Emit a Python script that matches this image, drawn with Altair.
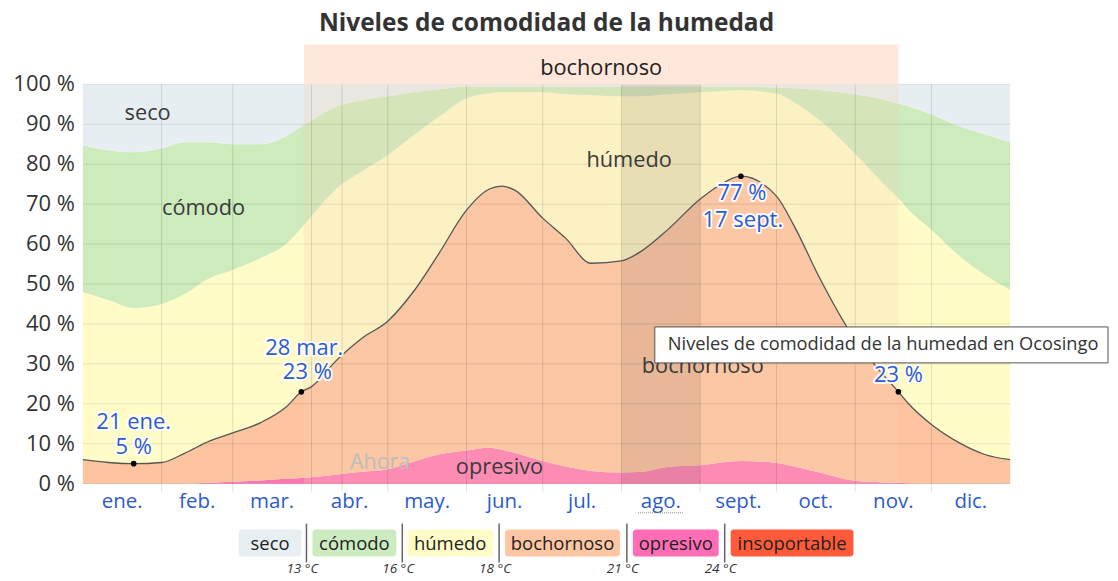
import altair as alt
import pandas as pd

FONT = "Open Sans"
BLUE = "#2C5BCF"
TEXT = "#333333"

# ---------------- data ----------------
days = [0, 10, 20, 31, 40, 50, 59, 70, 80, 86,
        90, 100, 110, 120, 130, 140, 151, 160, 165, 170,
        181, 190, 200, 212, 220, 230, 243, 250, 259, 273,
        280, 290, 304, 315, 321, 325, 334, 345, 355, 365]

# cumulative upper boundary of each band (in % of the time)
opresivo_top = [0, 0, 0, 0, 0, 0.2, 0.5, 0.8, 1.2, 1.4,
                1.6, 2.3, 3.0, 3.6, 5.5, 7.3, 8.3, 9.0, 8.5, 7.7,
                5.7, 4.3, 3.2, 2.8, 3.0, 4.2, 4.6, 5.2, 5.7, 5.2,
                4.3, 2.8, 0.7, 0.3, 0.2, 0.1, 0, 0, 0, 0]
bochornoso_top = [6.0, 5.3, 5.0, 5.3, 7.6, 10.7, 12.7, 15.3, 19.2, 23.0,
                  24.3, 31.0, 36.5, 40.7, 48.0, 57.5, 68.5, 73.8, 74.5, 73.5,
                  66.5, 61.5, 55.2, 55.8, 58.3, 63.5, 71.3, 74.5, 77.0, 72.0,
                  64.5, 51.5, 36.0, 27.3, 23.0, 20.0, 14.8, 10.2, 7.3, 6.0]
humedo_top = [48.0, 46.0, 44.0, 45.0, 47.5, 51.5, 53.5, 56.5, 60.0, 64.0,
              67.0, 74.0, 78.3, 82.3, 87.2, 91.8, 96.5, 97.8, 98.0, 98.0,
              98.0, 97.5, 97.3, 97.0, 97.0, 97.5, 98.0, 98.3, 98.5, 97.7,
              95.5, 91.0, 82.6, 75.2, 71.5, 68.6, 63.6, 57.0, 52.3, 48.5]
comodo_top = [84.7, 83.5, 83.0, 84.0, 85.5, 85.5, 85.0, 85.0, 87.0, 89.5,
              91.0, 94.5, 96.0, 97.0, 98.0, 98.8, 99.5, 99.5, 99.5, 99.5,
              99.5, 99.5, 99.5, 99.5, 99.5, 99.5, 99.5, 99.5, 99.5, 99.2,
              99.0, 98.6, 97.5, 96.2, 95.2, 94.5, 92.5, 89.5, 87.5, 85.5]

band_names = ["opresivo", "bochornoso", "húmedo", "cómodo", "seco"]
band_colors = ["#FF76B5", "#FEC4A0", "#FFFCC8", "#CDEBBD", "#E7EEF2"]

month_labels = ["ene.", "feb.", "mar.", "abr.", "may.", "jun.",
                "jul.", "ago.", "sept.", "oct.", "nov.", "dic."]
month_starts = [0, 31, 59, 90, 120, 151, 181, 212, 243, 273, 304, 334, 365]
y_ticks = list(range(0, 101, 10))

ann_days = [20, 86, 259, 321]
ann_vals = [5, 23, 77, 23]
ann_dates = ["21 ene.", "28 mar.", "17 sept.", "17 nov."]

muggy_start, muggy_end = 87, 321
now_day = 102
highlight_month = 7  # ago.

band_label_text = ["seco", "cómodo", "húmedo", "bochornoso", "opresivo"]
band_label_day = [25.5, 47.5, 215, 244, 164]
band_label_val = [92.75, 69, 81, 29.5, 4.25]

legend_labels = ["seco", "cómodo", "húmedo", "bochornoso", "opresivo", "insoportable"]
legend_colors = ["#E8EFF3", "#CCEBC0", "#FFFCC8", "#FEC6A2", "#FF6DB6", "#FF5B3A"]
legend_temps = ["13 °C", "16 °C", "18 °C", "21 °C", "24 °C"]

title_text = "Niveles de comodidad de la humedad"
tooltip_text = "Niveles de comodidad de la humedad en Ocosingo"

# ---------------- tables ----------------
n = len(days)
lows = [[0] * n, opresivo_top, bochornoso_top, humedo_top, comodo_top]
highs = [opresivo_top, bochornoso_top, humedo_top, comodo_top, [100] * n]
rows = []
for b, lo, hi in zip(band_names, lows, highs):
    for d, l, h in zip(days, lo, hi):
        rows.append({"band": b, "day": d, "lo": l, "hi": h})
df_bands = pd.DataFrame(rows)
df_line = pd.DataFrame({"day": days, "m": bochornoso_top})
df_ann = pd.DataFrame({"day": ann_days, "val": ann_vals})
df_blab = pd.DataFrame({"day": band_label_day, "val": band_label_val, "name": band_label_text})
mids = [(a + b) / 2 for a, b in zip(month_starts[:-1], month_starts[1:])]
df_months = pd.DataFrame({"mid": mids, "name": month_labels})
df_yt = pd.DataFrame({"v": y_ticks, "lab": [f"{v} %" for v in y_ticks]})
one = pd.DataFrame({"k": [0]})

xs = alt.Scale(domain=[0, 365], nice=False, zero=False)
ys = alt.Scale(domain=[0, 100], nice=False)


def XD(v):
    return alt.XDatum(v, axis=None)


def YD(v):
    return alt.YDatum(v, axis=None)


layers = []

areas = alt.Chart(df_bands).mark_area(interpolate="monotone").encode(
    x=alt.X("day:Q", scale=xs, axis=None),
    y=alt.Y("lo:Q", scale=ys, axis=None, stack=None),
    y2="hi:Q",
    color=alt.Color("band:N", scale=alt.Scale(domain=band_names, range=band_colors), legend=None),
)
layers.append(areas)

# muggy-period tint and current-month shading
layers.append(alt.Chart(one).mark_rect(color="#F3CEB2", opacity=0.25).encode(
    x=XD(muggy_start), x2=alt.datum(muggy_end), y=YD(0), y2=alt.datum(100)))
layers.append(alt.Chart(one).mark_rect(color="#000000", opacity=0.08).encode(
    x=XD(month_starts[highlight_month]), x2=alt.datum(month_starts[highlight_month + 1]),
    y=YD(0), y2=alt.datum(100)))

# grid
df_h = pd.DataFrame({"v": y_ticks})
layers.append(alt.Chart(df_h).mark_rule(color="#000000", opacity=0.1, strokeWidth=1).encode(
    y=alt.Y("v:Q", axis=None), x=XD(0), x2=alt.datum(365)))
df_v = pd.DataFrame({"d": month_starts[1:-1] + [now_day]})
layers.append(alt.Chart(df_v).mark_rule(color="#000000", opacity=0.12, strokeWidth=1).encode(
    x=alt.X("d:Q", axis=None), y=YD(-2), y2=alt.datum(100)))

# axis labels
layers.append(alt.Chart(df_yt).mark_text(font=FONT, fontSize=22, color=TEXT, align="right",
                                         baseline="middle", dx=-8).encode(
    x=XD(0), y=alt.Y("v:Q", axis=None), text="lab:N"))
layers.append(alt.Chart(df_months).mark_text(font=FONT, fontSize=20.5, color=BLUE,
                                             baseline="middle").encode(
    x=alt.X("mid:Q", axis=None), y=YD(-4.6), text="name:N"))
# dotted underline of the current month label
layers.append(alt.Chart(one).mark_rule(color="#888888", strokeWidth=1, strokeDash=[1, 1]).encode(
    x=XD(mids[highlight_month] - 9), x2=alt.datum(mids[highlight_month] + 9),
    y=YD(-7.3)))

# line & points
layers.append(alt.Chart(df_line).mark_line(color="#555555", strokeWidth=1.3, interpolate="monotone").encode(
    x=alt.X("day:Q", axis=None), y=alt.Y("m:Q", axis=None)))
layers.append(alt.Chart(df_ann).mark_circle(size=32, color="#000000", opacity=1).encode(
    x=alt.X("day:Q", axis=None), y=alt.Y("val:Q", axis=None)))

# band labels
layers.append(alt.Chart(df_blab).mark_text(font=FONT, fontSize=21.8, color="#3A3A3A").encode(
    x=alt.X("day:Q", axis=None), y=alt.Y("val:Q", axis=None), text="name:N"))
layers.append(alt.Chart(one).mark_text(font=FONT, fontSize=21.5, color="#BDBDBD").encode(
    x=XD(117), y=YD(5.25), text=alt.value("Ahora")))

# annotations (date line, value line) with white halo
ann_offsets = [((0, -42), (0, -17)), ((3, -44), (6, -20)), ((2, 44), (1, 17)), ((0, -41), (0, -17))]
for d, v, dt, (o1, o2) in zip(ann_days, ann_vals, ann_dates, ann_offsets):
    for txt, (dx, dy) in ((dt, o1), (f"{v} %", o2)):
        base = alt.Chart(one).encode(x=XD(d), y=YD(v), text=alt.value(txt))
        layers.append(base.mark_text(font=FONT, fontSize=22, dx=dx, dy=dy, fill="white",
                                     stroke="white", strokeWidth=4, strokeJoin="round", opacity=0.9))
        layers.append(base.mark_text(font=FONT, fontSize=22, dx=dx, dy=dy, fill=BLUE))

# header band for muggy period
layers.append(alt.Chart(one).mark_rect(color="#FFE7DB").encode(
    x=XD(muggy_start), x2=alt.datum(muggy_end), y=YD(100), y2=alt.datum(110)))
layers.append(alt.Chart(one).mark_text(font=FONT, fontSize=21.8, color="#222222").encode(
    x=XD((muggy_start + muggy_end) / 2), y=YD(104), text=alt.value("bochornoso")))

# tooltip-like box
layers.append(alt.Chart(one).mark_rect(fill="white", stroke="#555555", strokeWidth=1).encode(
    x=alt.value(573), x2=alt.value(1027), y=alt.value(243), y2=alt.value(279)))
layers.append(alt.Chart(one).mark_text(font=FONT, fontSize=18.3, color=TEXT, align="left").encode(
    x=alt.value(586), y=alt.value(261), text=alt.value(tooltip_text)))

# title
layers.append(alt.Chart(one).mark_text(font=FONT, fontSize=24.5, fontWeight="bold", color=TEXT).encode(
    x=alt.value(464.5), y=alt.value(-60), text=alt.value(title_text)))

# legend (pixel layout)
box_x = [(156, 219), (230, 314), (325, 411), (423, 538), (551, 637), (649, 772)]
sep_x = [224, 320, 417, 545, 643]
for lab, col, (x0, x1) in zip(legend_labels, legend_colors, box_x):
    layers.append(alt.Chart(one).mark_rect(color=col, cornerRadius=3).encode(
        x=alt.value(x0), x2=alt.value(x1), y=alt.value(446), y2=alt.value(473)))
    layers.append(alt.Chart(one).mark_text(font=FONT, fontSize=18.5, color="#222222").encode(
        x=alt.value((x0 + x1) / 2), y=alt.value(460), text=alt.value(lab)))
for sx, t in zip(sep_x, legend_temps):
    layers.append(alt.Chart(one).mark_rule(color="#666666", strokeWidth=1.5).encode(
        x=alt.value(sx), y=alt.value(440), y2=alt.value(479)))
    layers.append(alt.Chart(one).mark_text(font=FONT, fontSize=13.5, fontStyle="italic", color=TEXT).encode(
        x=alt.value(sx - 4), y=alt.value(486), text=alt.value(t)))

chart = alt.layer(*layers).properties(
    width=929, height=400,
    autosize=alt.AutoSizeParams(type="none"),
    padding={"left": 75, "top": 76, "right": 100, "bottom": 96},
).configure_view(stroke=None)

chart.save("out.html", embed_options={"renderer": "svg", "actions": False})
